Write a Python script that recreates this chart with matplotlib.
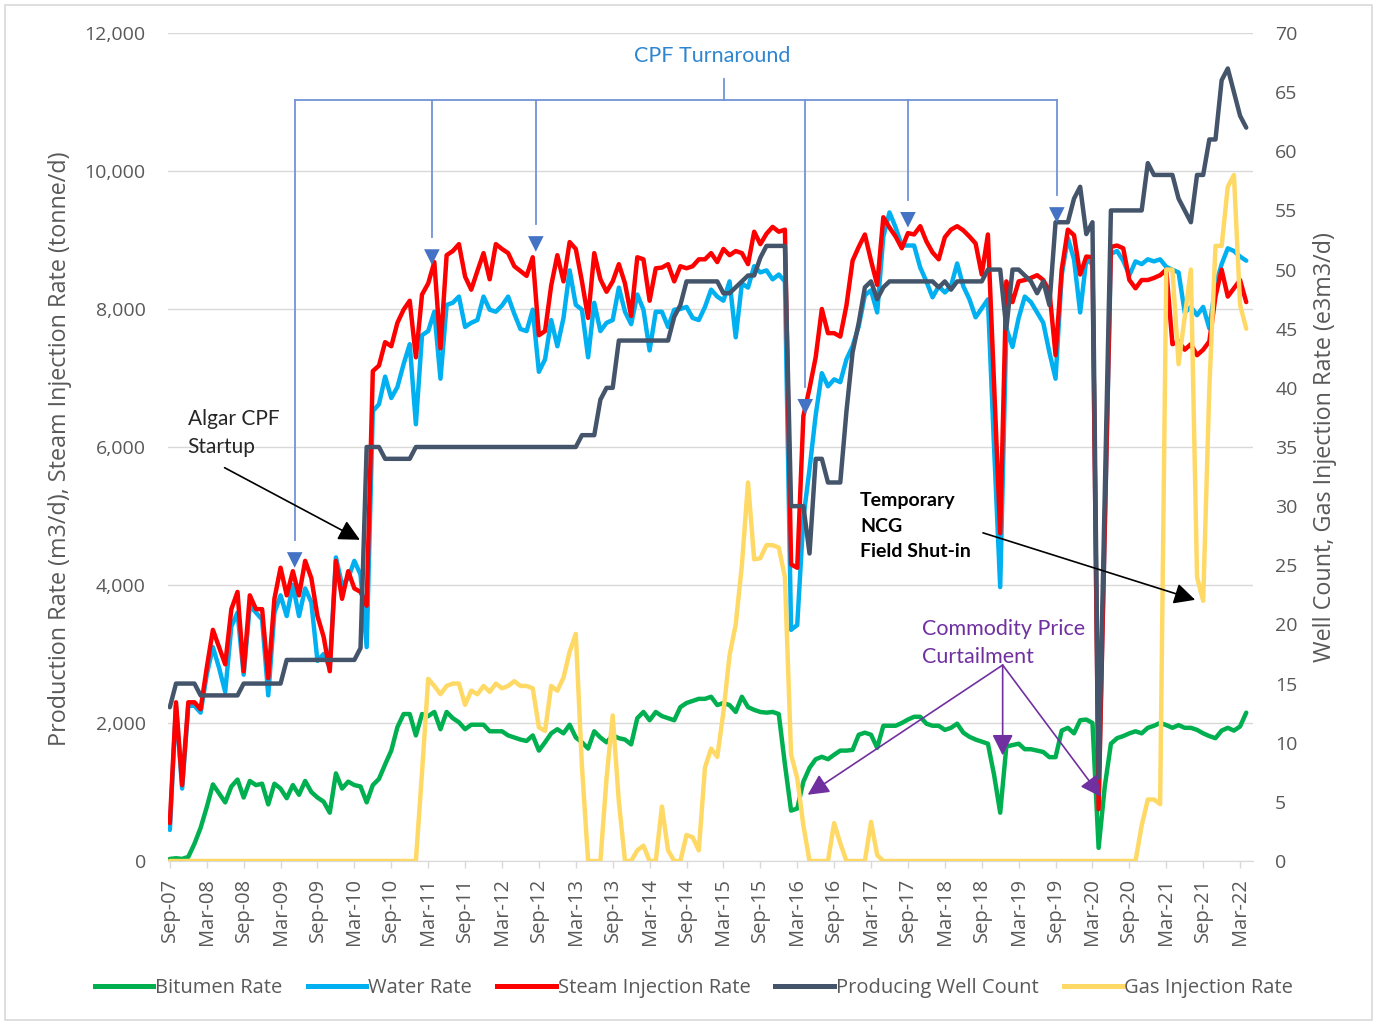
import numpy as np
import pandas as pd
import matplotlib
matplotlib.use("Agg")
import matplotlib.pyplot as plt
from matplotlib.lines import Line2D
from matplotlib.patches import Rectangle

# ---------------------------------------------------------------- data
months = pd.date_range("2007-09-01", "2022-04-01", freq="MS")
tick_labels = list(months[::6].strftime("%b-%y"))

bitumen_rate = [
    30, 40, 30, 60, 250, 480, 780, 1110, 980, 850,
    1080, 1180, 920, 1160, 1100, 1120, 820, 1120, 1050, 910,
    1100, 960, 1160, 1000, 920, 860, 700, 1270, 1050, 1150,
    1100, 1080, 850, 1100, 1190, 1400, 1600, 1940, 2130, 2130,
    1820, 2130, 2100, 2160, 1910, 2160, 2070, 2010, 1910, 1975,
    1975, 1975, 1880, 1880, 1880, 1820, 1790, 1760, 1740, 1820,
    1600, 1720, 1850, 1910, 1850, 1975, 1790, 1720, 1630, 1880,
    1790, 1720, 1820, 1780, 1760, 1690, 2070, 2160, 2040, 2160,
    2100, 2070, 2040, 2230, 2290, 2320, 2350, 2350, 2380, 2260,
    2290, 2260, 2160, 2380, 2230, 2190, 2160, 2150, 2160, 2130,
    1400, 730, 760, 1150, 1350, 1475, 1510, 1475, 1540, 1600,
    1600, 1610, 1830, 1860, 1830, 1640, 1960, 1960, 1960, 2000,
    2050, 2090, 2090, 1990, 1960, 1960, 1900, 1930, 1990, 1860,
    1800, 1760, 1730, 1700, 1250, 700, 1660, 1680, 1700, 1620,
    1620, 1600, 1580, 1505, 1505, 1890, 1930, 1850, 2040, 2050,
    2000, 190, 1080, 1700, 1780, 1810, 1850, 1880, 1850, 1930,
    1960, 2000, 1970, 1930, 1970, 1930, 1930, 1900, 1850, 1810,
    1780, 1890, 1930, 1890, 1950, 2150,
]

water_rate = [
    450, 2250, 1050, 2250, 2250, 2150, 2700, 3100, 2800, 2450,
    3400, 3600, 2700, 3700, 3600, 3500, 2400, 3600, 3850, 3550,
    4000, 3550, 3950, 3750, 2900, 3000, 2800, 4400, 4000, 4100,
    4350, 4150, 3100, 6520, 6620, 7020, 6710, 6870, 7200, 7490,
    6330, 7620, 7680, 7960, 6990, 8060, 8090, 8180, 7740, 7800,
    7840, 8180, 7990, 7960, 8050, 8180, 7930, 7710, 7680, 7990,
    7090, 7270, 7840, 7460, 7870, 8560, 8060, 7990, 7300, 8090,
    7680, 7800, 7840, 8310, 7960, 7780, 8210, 7990, 7400, 7960,
    7960, 7740, 7990, 8000, 8030, 7870, 7840, 8030, 8280, 8180,
    8120, 8400, 7590, 8370, 8310, 8620, 8530, 8560, 8430, 8500,
    8400, 3350, 3420, 4970, 5680, 6460, 7070, 6880, 6980, 6940,
    7270, 7460, 7750, 8200, 8270, 7950, 9050, 9400, 9180, 8920,
    8920, 8920, 8600, 8400, 8170, 8330, 8240, 8330, 8660, 8330,
    8140, 7880, 8010, 8140, 6000, 3970, 7720, 7450, 7870, 8180,
    8100, 7950, 7800, 7370, 6990, 8490, 9030, 8720, 7950, 8720,
    8650, 900, 4800, 8800, 8840, 8700, 8490, 8690, 8650, 8720,
    8690, 8720, 8610, 8570, 8530, 7950, 8030, 7910, 8030, 7720,
    8340, 8650, 8880, 8840, 8760, 8700,
]

steam_injection_rate = [
    550, 2300, 1100, 2300, 2300, 2200, 2800, 3350, 3100, 2850,
    3650, 3900, 2750, 3850, 3650, 3650, 2650, 3800, 4250, 3850,
    4200, 3850, 4350, 4100, 3550, 3250, 2750, 4350, 3800, 4200,
    3950, 3900, 3700, 7100, 7180, 7520, 7460, 7800, 7990, 8120,
    7300, 8210, 8370, 8680, 7430, 8780, 8840, 8940, 8470, 8280,
    8550, 8810, 8430, 8940, 8870, 8810, 8620, 8550, 8480, 8750,
    7620, 7680, 8340, 8780, 8400, 8970, 8870, 8400, 7870, 8810,
    8430, 8250, 8400, 8650, 8370, 7900, 8750, 8720, 8120, 8590,
    8600, 8650, 8400, 8620, 8590, 8620, 8720, 8720, 8810, 8680,
    8870, 8780, 8840, 8810, 8650, 9120, 8940, 9090, 9190, 9120,
    9150, 4300, 4250, 6450, 6850, 7300, 8000, 7650, 7650, 7600,
    8050, 8700, 8900, 9080, 8700, 8350, 9330, 9180, 9050, 8880,
    9100, 9080, 9200, 8980, 8820, 8720, 9040, 9150, 9200, 9140,
    9050, 8950, 8500, 9080, 6900, 4750, 8400, 8100, 8400, 8420,
    8450, 8490, 8420, 8260, 7330, 8570, 9150, 9070, 8500, 8760,
    8750, 750, 4800, 8900, 8920, 8880, 8420, 8300, 8420, 8420,
    8450, 8490, 8570, 7490, 7530, 7410, 7490, 7330, 7410, 7530,
    8180, 8570, 8180, 8300, 8420, 8100,
]

producing_well_count = [
    13, 15, 15, 15, 15, 14, 14, 14, 14, 14,
    14, 14, 15, 15, 15, 15, 15, 15, 15, 17,
    17, 17, 17, 17, 17, 17, 17, 17, 17, 17,
    17, 18, 35, 35, 35, 34, 34, 34, 34, 34,
    35, 35, 35, 35, 35, 35, 35, 35, 35, 35,
    35, 35, 35, 35, 35, 35, 35, 35, 35, 35,
    35, 35, 35, 35, 35, 35, 35, 36, 36, 36,
    39, 40, 40, 44, 44, 44, 44, 44, 44, 44,
    44, 44, 46, 47, 49, 49, 49, 49, 49, 49,
    48, 48, 48.5, 49, 49.5, 49.5, 51, 52, 52, 52,
    52, 30, 30, 30, 26, 34, 34, 32, 32, 32,
    38, 43, 45.5, 48.5, 49, 47.5, 48.5, 49, 49, 49,
    49, 49, 49, 49, 49, 48.5, 49, 48.3, 49, 49,
    49, 49, 49, 50, 50, 50, 45, 50, 50, 49.5,
    49, 48, 49, 47, 54, 54, 54, 56, 57, 53,
    54, 7, 31, 55, 55, 55, 55, 55, 55, 59,
    58, 58, 58, 58, 56, 55, 54, 58, 58, 61,
    61, 66, 67, 65, 63, 62,
]

gas_injection_rate = [
    0, 0, 0, 0, 0, 0, 0, 0, 0, 0,
    0, 0, 0, 0, 0, 0, 0, 0, 0, 0,
    0, 0, 0, 0, 0, 0, 0, 0, 0, 0,
    0, 0, 0, 0, 0, 0, 0, 0, 0, 0,
    0, 7.5, 15.4, 14.8, 14.1, 14.8, 15, 15, 13.2, 14.4,
    14.1, 14.8, 14.3, 15, 14.6, 14.8, 15.2, 14.8, 14.8, 14.6,
    11.3, 11, 14.8, 14.4, 15.5, 17.7, 19.2, 8, 0, 0,
    0, 7, 12.3, 5, 0, 0, 0.9, 1.3, 0, 0,
    4.6, 0.9, 0, 0, 2.2, 2, 0.9, 7.9, 9.5, 8.8,
    12.6, 17.4, 20, 25, 32, 25.5, 25.6, 26.7, 26.7, 26.5,
    24, 9, 7, 3, 0, 0, 0, 0, 3.2, 1.5,
    0, 0, 0, 0, 3.3, 0.5, 0, 0, 0, 0,
    0, 0, 0, 0, 0, 0, 0, 0, 0, 0,
    0, 0, 0, 0, 0, 0, 0, 0, 0, 0,
    0, 0, 0, 0, 0, 0, 0, 0, 0, 0,
    0, 0, 0, 0, 0, 0, 0, 0, 3, 5.2,
    5.2, 4.8, 50, 50, 42, 46, 50, 24, 22, 40,
    52, 52, 57, 58, 47, 45,
]

series_names = ["Bitumen Rate", "Water Rate", "Steam Injection Rate",
                "Producing Well Count", "Gas Injection Rate"]
series_colors = ["#00B050", "#00B0F0", "#FF0000", "#44546A", "#FFD966"]

# ---------------------------------------------------------------- style
GREY = "#595959"
GRID = "#D9D9D9"
AXFONT = "Open Sans"
NOTEFONT = "Lato"
plt.rcParams["font.family"] = [AXFONT, "DejaVu Sans"]

W, H = 1377, 1025
fig = plt.figure(figsize=(W / 100, H / 100), dpi=100)
fig.patch.set_facecolor("white")

left, right, bottom, top = 168 / W, 1253 / W, 1 - 861 / H, 1 - 33 / H
ax = fig.add_axes([left, bottom, right - left, top - bottom])
ax2 = ax.twinx()
ax2.set_position([left, bottom, right - left, top - bottom])

x = np.arange(len(months))
line_kw = dict(lw=3.2, solid_joinstyle="round", solid_capstyle="round")

ax.plot(x, bitumen_rate, color=series_colors[0], zorder=3, **line_kw)
ax.plot(x, water_rate, color=series_colors[1], zorder=4, **line_kw)
ax.plot(x, steam_injection_rate, color=series_colors[2], zorder=5, **line_kw)
ax2.plot(x, producing_well_count, color=series_colors[3], zorder=3, **line_kw)
ax2.plot(x, gas_injection_rate, color=series_colors[4], zorder=4, **line_kw)

# axes
ax.set_xlim(-0.3, 176.1)
ax.set_ylim(0, 12000)
ax2.set_ylim(0, 70)
ax.set_yticks(np.arange(0, 12001, 2000))
ax.set_yticklabels([f"{v:,}" for v in range(0, 12001, 2000)])
ax2.set_yticks(np.arange(0, 71, 5))
ax.set_xticks(x[::6])
ax.set_xticklabels(tick_labels, rotation=90)

ax.grid(axis="y", color=GRID, lw=1)
ax.set_axisbelow(True)
for a in (ax, ax2):
    for s in ("top", "left", "right"):
        a.spines[s].set_visible(False)
ax.spines["bottom"].set_color(GRID)
ax2.spines["bottom"].set_visible(False)

ax.tick_params(axis="x", colors=GRID, length=5, width=1, pad=7,
               labelcolor=GREY, labelsize=14.5)
ax.tick_params(axis="y", length=0, pad=16, labelcolor=GREY, labelsize=14)
ax2.tick_params(axis="y", length=0, pad=16, labelcolor=GREY, labelsize=14)

fig.text(60 / W, 1 - 449 / H,
         "Production Rate (m3/d), Steam Injection Rate (tonne/d)",
         rotation=90, ha="center", va="center", color=GREY, fontsize=16.8)
fig.text(1325 / W, 1 - 447 / H,
         "Well Count, Gas Injection Rate (e3m3/d)",
         rotation=90, ha="center", va="center", color=GREY, fontsize=16.8)

# ---------------------------------------------------------------- notes
T = ax.transData


def arrow(tip, start, color, lw=1.2, head=(0.6, 0.3), scale=16):
    ax2.annotate("", xy=tip, xytext=start, xycoords=T, textcoords=T,
                 arrowprops=dict(arrowstyle=f"-|>,head_length={head[0]},head_width={head[1]}",
                                 color=color, lw=lw, shrinkA=0, shrinkB=0,
                                 mutation_scale=scale),
                 zorder=10, annotation_clip=False)


# CPF turnaround bracket
cpf_line = "#7294D6"
cpf_head = "#4472C4"
bracket_y = 11035
turnaround_x = [20.3, 42.6, 59.5, 103.3, 120.0, 144.2]
turnaround_tip = [4250, 8640, 8830, 6470, 9180, 9250]
ax2.plot([turnaround_x[0], turnaround_x[-1]], [bracket_y, bracket_y],
         transform=T, color=cpf_line, lw=1.3, zorder=10, clip_on=False)
ax2.plot([90.1, 90.1], [bracket_y, 11330], transform=T, color=cpf_line,
         lw=1.3, zorder=10, clip_on=False)
for tx, ty in zip(turnaround_x, turnaround_tip):
    ax2.plot([tx, tx], [bracket_y, ty + 400], transform=T, color=cpf_line,
             lw=1.3, zorder=10)
    arrow((tx, ty), (tx, ty + 420), cpf_head, lw=0.01, head=(0.7, 0.35), scale=16)
ax2.text(88.1, 11660, "CPF Turnaround", transform=T, ha="center", va="center",
         color="#2E86D0", fontsize=15.5, family=NOTEFONT, zorder=11)

# Algar CPF startup
ax2.text(2.9, 6200, "Algar CPF\nStartup", transform=T, ha="left", va="center",
         color="#262626", fontsize=15, family=NOTEFONT, linespacing=1.5,
         zorder=11)
arrow((30.9, 4655), (8.9, 5700), "black", lw=1.2, head=(0.8, 0.4), scale=16)

# Temporary NCG field shut-in
ax2.text(112.2, 4850, "Temporary\nNCG\nField Shut-in", transform=T,
         ha="left", va="center", color="black", fontsize=14, weight="bold",
         family=NOTEFONT, linespacing=1.6, zorder=11,
         bbox=dict(boxstyle="square,pad=0.25", fc="white", ec="none"))
arrow((166.7, 3785), (132.2, 4756), "black", lw=1.2, head=(0.8, 0.4), scale=16)

# Commodity price curtailment
purple = "#7030A0"
ax2.text(122.3, 3160, "Commodity Price\nCurtailment", transform=T, ha="left",
         va="center", color=purple, fontsize=15.5, family=NOTEFONT,
         linespacing=1.55, zorder=11)
origin = (135.4, 2840)
for tip in [(103.7, 960), (135.4, 1530), (151.4, 930)]:
    arrow(tip, origin, purple, lw=1.2, head=(0.8, 0.4), scale=16)

# ---------------------------------------------------------------- legend
handles = [Line2D([0], [0], color=c, lw=3.6) for c in series_colors]
leg = fig.legend(handles, series_names, loc="center",
                 bbox_to_anchor=(0.504, 1 - 988 / H), ncol=5, frameon=False,
                 handlelength=2.9, handletextpad=0.1, columnspacing=1.25,
                 fontsize=14.5)
for t in leg.get_texts():
    t.set_color(GREY)

# chart border
fig.add_artist(Rectangle((5 / W, 5 / H), 1 - 10 / W, 1 - 10 / H,
                         transform=fig.transFigure, fill=False, ec=GRID,
                         lw=1.2))

fig.savefig("out.png", dpi=100, facecolor="white")
